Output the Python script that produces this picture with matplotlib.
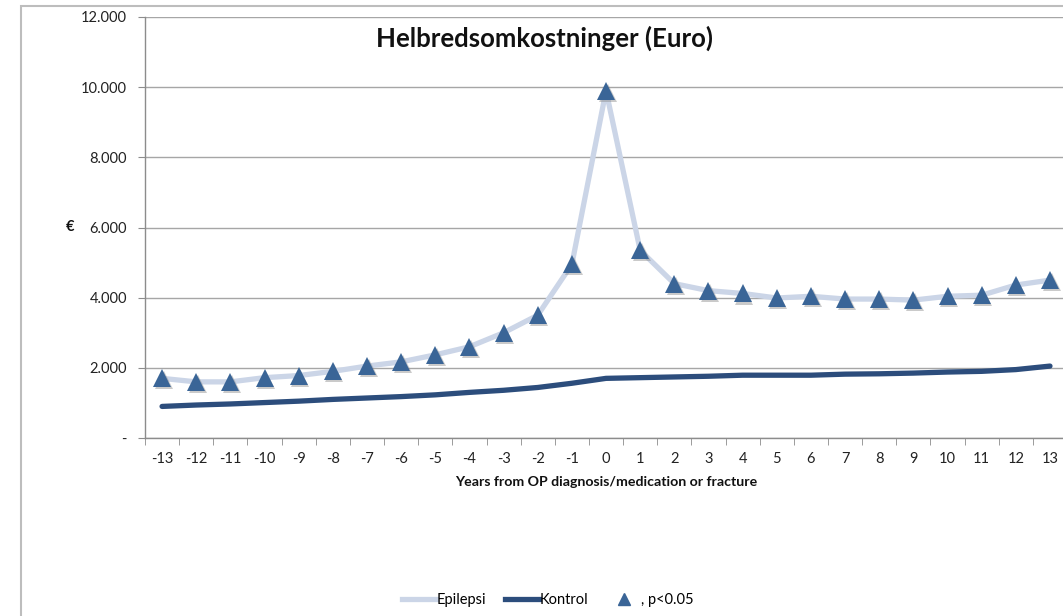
import matplotlib
matplotlib.use("Agg")
import matplotlib.pyplot as plt
import matplotlib.transforms as mtransforms
from matplotlib.patches import Rectangle
from matplotlib.lines import Line2D

years = list(range(-13, 14))
epilepsi = [1700, 1600, 1600, 1720, 1780, 1900, 2050, 2170, 2370, 2600, 3000, 3500,
            4950, 9900, 5350, 4400, 4200, 4120, 3990, 4040, 3960, 3960, 3930, 4040,
            4070, 4360, 4500]
kontrol = [900, 940, 970, 1010, 1050, 1100, 1140, 1180, 1230, 1300, 1360, 1440,
           1560, 1700, 1720, 1740, 1760, 1790, 1790, 1790, 1820, 1830, 1850, 1880,
           1900, 1950, 2050]
ytick_vals = [0, 2000, 4000, 6000, 8000, 10000, 12000]
ytick_labels = ["-", "2.000", "4.000", "6.000", "8.000", "10.000", "12.000"]

plt.rcParams['font.family'] = ['Lato', 'DejaVu Sans']

W, H = 1063, 616
fig = plt.figure(figsize=(W / 100, H / 100), dpi=100)

# outer chart border
fig.patches.append(Rectangle((21 / W, -0.05), 1.1, 1 - 6 / H + 0.05,
                             transform=fig.transFigure, fill=False,
                             edgecolor="#BDBDBD", linewidth=1.5))

left, right_px = 145, 145 + 27 * 34.15
top, bottom = 17, 438
ax = fig.add_axes([left / W, 1 - bottom / H, (right_px - left) / W, (bottom - top) / H])

ax.plot(years, epilepsi, color="#CBD5E7", linewidth=3.8, solid_capstyle="round", zorder=3)
ax.plot(years, kontrol, color="#2C4D7C", linewidth=3.8, solid_capstyle="round", zorder=3)
shadow_tr = mtransforms.offset_copy(ax.transData, fig=fig, x=1.2, y=-1.5, units="points")
ax.plot(years, epilepsi, linestyle="none", marker="^", markersize=13,
        color="#8A8A8A", markeredgewidth=0, alpha=0.45, transform=shadow_tr, zorder=3.5)
ax.plot(years, epilepsi, linestyle="none", marker="^", markersize=13,
        color="#3A6597", markeredgewidth=0, zorder=4)

ax.set_xlim(-13.5, 13.5)
ax.set_ylim(0, 12000)
ax.set_yticks(ytick_vals)
ax.set_yticklabels(ytick_labels)
ax.set_xticks(years)
ax.set_xticklabels([str(y) for y in years])
ax.set_xticks([y + 0.5 for y in [-14] + years], minor=True)
ax.tick_params(axis="x", which="major", length=0, pad=10, labelsize=10.5, colors="#222222")
ax.tick_params(axis="x", which="minor", length=5, color="#8C8C8C", direction="out")
ax.tick_params(axis="y", length=5, color="#8C8C8C", labelsize=10.5, pad=8, labelcolor="#222222")
ax.grid(axis="y", color="#A6A6A6", linewidth=1)
ax.set_axisbelow(True)
for s in ["top", "right"]:
    ax.spines[s].set_visible(False)
for s in ["left", "bottom"]:
    ax.spines[s].set_color("#8C8C8C")
    ax.spines[s].set_linewidth(1)

fig.text(70 / W, 1 - 227 / H, "€", ha="center", va="center", fontsize=10.5,
         fontweight="bold", color="#111111")
fig.text(545 / W, 1 - 38 / H, "Helbredsomkostninger (Euro)", ha="center", va="center",
         fontsize=18.5, fontweight="bold", color="#111111")
fig.text(606 / W, 1 - 482 / H, "Years from OP diagnosis/medication or fracture",
         ha="center", va="center", fontsize=10.2, fontweight="bold", color="#111111")

handles = [Line2D([], [], color="#CBD5E7", linewidth=3.8),
           Line2D([], [], color="#2C4D7C", linewidth=3.8),
           Line2D([], [], linestyle="none", marker="^", markersize=9, color="#3A6597")]
fig.legend(handles, ["Epilepsi", "Kontrol", ", p<0.05"], loc="center",
           bbox_to_anchor=(548 / W, 1 - 600 / H), ncol=3, frameon=False,
           fontsize=10.5, handlelength=2.3, handletextpad=0.05, columnspacing=1.3)

fig.savefig("out.png", dpi=100)
